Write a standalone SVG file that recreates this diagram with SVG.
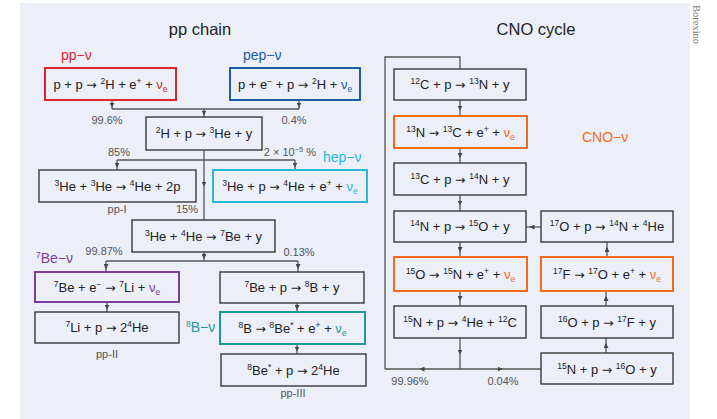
<svg xmlns="http://www.w3.org/2000/svg" width="717" height="419" viewBox="0 0 717 419">
<style>
.bg{fill:#eceef8}
.box{fill:none;stroke:#3a3a3a;stroke-width:1.4}
.t{font-family:"Liberation Sans",Arial,sans-serif;font-size:13px;fill:#222;text-anchor:middle}
.s{font-size:8.5px}
.r{font-family:"DejaVu Sans",sans-serif;font-size:12.5px}
.c{fill:none;stroke:#555;stroke-width:1.3}
.ar{marker-mid:url(#a)}
.p{font-family:"Liberation Sans",Arial,sans-serif;font-size:11px;fill:#555;text-anchor:middle}
.lab{font-family:"Liberation Sans",Arial,sans-serif;font-size:14px}
.ttl{font-family:"Liberation Sans",Arial,sans-serif;font-size:16.5px;fill:#222;text-anchor:middle}
</style>
<defs>
<marker id="a" viewBox="0 0 6 6" refX="3" refY="3" markerWidth="5" markerHeight="5" orient="auto" markerUnits="userSpaceOnUse"><path d="M0,0 L6,3 L0,6 z" fill="#444"/></marker>
</defs>
<rect class="bg" x="20" y="3" width="670" height="416"/>
<text x="693" y="5" transform="rotate(90 693 5)" font-family="'Liberation Serif',serif" font-size="10.5" fill="#777">Borexino</text>
<text class="ttl" x="200" y="35">pp chain</text>
<text class="ttl" x="536" y="35">CNO cycle</text>

<g id="connectors">
<path class="c ar" d="M112,100 L112,105 L112,109"/>
<path class="c ar" d="M299,100 L299,105 L299,109"/>
<path class="c" d="M112,109 L299,109"/>
<path class="c ar" d="M204,109 L204,113 L204,117"/>
<path class="c ar" d="M204,150 L204,184 L204,220"/>
<path class="c" d="M117,160 L295,160"/>
<path class="c ar" d="M117,160 L117,165 L117,170"/>
<path class="c ar" d="M295,160 L295,165 L295,170"/>
<path class="c ar" d="M204,252 L204,256.5 L204,261"/>
<path class="c" d="M106,261 L298,261"/>
<path class="c ar" d="M106,261 L106,266.5 L106,272"/>
<path class="c ar" d="M298,261 L298,266.5 L298,272"/>
<path class="c ar" d="M107,302 L107,307 L107,312"/>
<path class="c ar" d="M297,303 L297,307.5 L297,312"/>
<path class="c ar" d="M297,344 L297,349 L297,354"/>

<path class="c ar" d="M460,369 L422,369 L385,369"/>
<path class="c" d="M385,369 L385,57 L460,57 L460,69"/>
<path class="c ar" d="M460,100 L460,108 L460,116"/>
<path class="c ar" d="M460,148 L460,155.5 L460,163"/>
<path class="c ar" d="M460,195 L460,203 L460,211"/>
<path class="c ar" d="M541,227 L532,227 L526,227"/>
<path class="c ar" d="M460,242 L460,249.5 L460,257"/>
<path class="c ar" d="M607,257 L607,249.5 L607,242"/>
<path class="c ar" d="M460,291 L460,298.5 L460,306"/>
<path class="c ar" d="M606,306 L606,298.5 L606,291"/>
<path class="c ar" d="M606,353 L606,345.5 L606,338"/>
<path class="c ar" d="M460,338 L460,352 L460,369"/>
<path class="c ar" d="M460,369 L500,369 L541,369"/>
</g>

<g id="labels">
<text class="lab" x="61" y="60" fill="#d8262e">pp−ν</text>
<text class="lab" x="243" y="60" fill="#1f5aa6">pep−ν</text>
<text class="lab" x="323" y="162" fill="#2ab8d6">hep−ν</text>
<text class="lab" x="36" y="263" fill="#7a3f9c"><tspan class="s" dy="-5">7</tspan><tspan dy="5">Be−ν</tspan></text>
<text class="lab" x="186" y="332" fill="#1b9996"><tspan class="s" dy="-5">8</tspan><tspan dy="5">B−ν</tspan></text>
<text class="lab" x="582" y="142" fill="#f26b1d">CNO−ν</text>
<text class="p" x="107" y="124">99.6%</text>
<text class="p" x="294" y="124">0.4%</text>
<text class="p" x="119" y="156">85%</text>
<text class="p" x="290" y="156">2 × 10<tspan font-size="7.5" dy="-4">−5</tspan><tspan dy="4"> %</tspan></text>
<text class="p" x="117" y="213">pp-I</text>
<text class="p" x="187" y="213">15%</text>
<text class="p" x="104" y="255">99.87%</text>
<text class="p" x="299" y="256">0.13%</text>
<text class="p" x="107" y="358">pp-II</text>
<text class="p" x="293" y="397">pp-III</text>
<text class="p" x="410" y="385">99.96%</text>
<text class="p" x="503" y="385">0.04%</text>
</g>

<g id="n-pp">
<rect x="45" y="68" width="131" height="32" fill="none" stroke="#d8262e" stroke-width="2"/>
<text class="t" x="110.5" y="89">p + p <tspan class="r">→</tspan> <tspan class="s" dy="-5">2</tspan><tspan dy="5">H + e</tspan><tspan class="s" dy="-5">+</tspan><tspan dy="5"> + </tspan><tspan fill="#d8262e">ν</tspan><tspan class="s" fill="#d8262e" dy="3">e</tspan></text>
</g>
<g id="n-pep">
<rect x="230" y="68" width="130" height="32" fill="none" stroke="#1f5aa6" stroke-width="2"/>
<text class="t" x="295" y="89">p + e<tspan class="s" dy="-5">−</tspan><tspan dy="5"> + p <tspan class="r">→</tspan> </tspan><tspan class="s" dy="-5">2</tspan><tspan dy="5">H + </tspan><tspan fill="#1f5aa6">ν</tspan><tspan class="s" fill="#1f5aa6" dy="3">e</tspan></text>
</g>
<g id="n-2h">
<rect class="box" x="146" y="117" width="116" height="33"/>
<text class="t" x="204" y="138"><tspan class="s" dy="-5">2</tspan><tspan dy="5">H + p <tspan class="r">→</tspan> </tspan><tspan class="s" dy="-5">3</tspan><tspan dy="5">He + y</tspan></text>
</g>
<g id="n-3he3he">
<rect class="box" x="39" y="170" width="157" height="32"/>
<text class="t" x="117.5" y="191"><tspan class="s" dy="-5">3</tspan><tspan dy="5">He + </tspan><tspan class="s" dy="-5">3</tspan><tspan dy="5">He <tspan class="r">→</tspan> </tspan><tspan class="s" dy="-5">4</tspan><tspan dy="5">He + 2p</tspan></text>
</g>
<g id="n-hep">
<rect x="213" y="170" width="154" height="32" fill="none" stroke="#2ab8d6" stroke-width="2"/>
<text class="t" x="290" y="191"><tspan class="s" dy="-5">3</tspan><tspan dy="5">He + p <tspan class="r">→</tspan> </tspan><tspan class="s" dy="-5">4</tspan><tspan dy="5">He + e</tspan><tspan class="s" dy="-5">+</tspan><tspan dy="5"> + </tspan><tspan fill="#2ab8d6">ν</tspan><tspan class="s" fill="#2ab8d6" dy="3">e</tspan></text>
</g>
<g id="n-3he4he">
<rect class="box" x="132" y="220" width="143" height="32"/>
<text class="t" x="203.5" y="241"><tspan class="s" dy="-5">3</tspan><tspan dy="5">He + </tspan><tspan class="s" dy="-5">4</tspan><tspan dy="5">He <tspan class="r">→</tspan> </tspan><tspan class="s" dy="-5">7</tspan><tspan dy="5">Be + y</tspan></text>
</g>
<g id="n-7be">
<rect x="35" y="272" width="144" height="30" fill="none" stroke="#7a3f9c" stroke-width="2"/>
<text class="t" x="107" y="292"><tspan class="s" dy="-5">7</tspan><tspan dy="5">Be + e</tspan><tspan class="s" dy="-5">−</tspan><tspan dy="5"> <tspan class="r">→</tspan> </tspan><tspan class="s" dy="-5">7</tspan><tspan dy="5">Li + </tspan><tspan fill="#7a3f9c">ν</tspan><tspan class="s" fill="#7a3f9c" dy="3">e</tspan></text>
</g>
<g id="n-7bep">
<rect class="box" x="220" y="272" width="144" height="31"/>
<text class="t" x="292" y="292"><tspan class="s" dy="-5">7</tspan><tspan dy="5">Be + p <tspan class="r">→</tspan> </tspan><tspan class="s" dy="-5">8</tspan><tspan dy="5">B + y</tspan></text>
</g>
<g id="n-7li">
<rect class="box" x="35" y="312" width="144" height="31"/>
<text class="t" x="107" y="332"><tspan class="s" dy="-5">7</tspan><tspan dy="5">Li + p <tspan class="r">→</tspan> 2</tspan><tspan class="s" dy="-5">4</tspan><tspan dy="5">He</tspan></text>
</g>
<g id="n-8b">
<rect x="220" y="312" width="145" height="32" fill="none" stroke="#1b9996" stroke-width="2"/>
<text class="t" x="292.5" y="333"><tspan class="s" dy="-5">8</tspan><tspan dy="5">B <tspan class="r">→</tspan> </tspan><tspan class="s" dy="-5">8</tspan><tspan dy="5">Be</tspan><tspan class="s" dy="-5">*</tspan><tspan dy="5"> + e</tspan><tspan class="s" dy="-5">+</tspan><tspan dy="5"> + </tspan><tspan fill="#1b9996">ν</tspan><tspan class="s" fill="#1b9996" dy="3">e</tspan></text>
</g>
<g id="n-8be">
<rect class="box" x="221" y="354" width="145" height="32"/>
<text class="t" x="293.5" y="375"><tspan class="s" dy="-5">8</tspan><tspan dy="5">Be</tspan><tspan class="s" dy="-5">*</tspan><tspan dy="5"> + p <tspan class="r">→</tspan> 2</tspan><tspan class="s" dy="-5">4</tspan><tspan dy="5">He</tspan></text>
</g>

<g id="n-12c">
<rect class="box" x="394" y="69" width="132" height="31"/>
<text class="t" x="460" y="89"><tspan class="s" dy="-5">12</tspan><tspan dy="5">C + p <tspan class="r">→</tspan> </tspan><tspan class="s" dy="-5">13</tspan><tspan dy="5">N + y</tspan></text>
</g>
<g id="n-13n">
<rect x="394" y="116" width="133" height="32" fill="none" stroke="#f26b1d" stroke-width="2"/>
<text class="t" x="460.5" y="137"><tspan class="s" dy="-5">13</tspan><tspan dy="5">N <tspan class="r">→</tspan> </tspan><tspan class="s" dy="-5">13</tspan><tspan dy="5">C + e</tspan><tspan class="s" dy="-5">+</tspan><tspan dy="5"> + </tspan><tspan fill="#f26b1d">ν</tspan><tspan class="s" fill="#f26b1d" dy="3">e</tspan></text>
</g>
<g id="n-13c">
<rect class="box" x="394" y="163" width="132" height="32"/>
<text class="t" x="460" y="184"><tspan class="s" dy="-5">13</tspan><tspan dy="5">C + p <tspan class="r">→</tspan> </tspan><tspan class="s" dy="-5">14</tspan><tspan dy="5">N + y</tspan></text>
</g>
<g id="n-14n">
<rect class="box" x="394" y="211" width="132" height="31"/>
<text class="t" x="460" y="231"><tspan class="s" dy="-5">14</tspan><tspan dy="5">N + p <tspan class="r">→</tspan> </tspan><tspan class="s" dy="-5">15</tspan><tspan dy="5">O + y</tspan></text>
</g>
<g id="n-17o">
<rect class="box" x="541" y="211" width="132" height="31"/>
<text class="t" x="607" y="231"><tspan class="s" dy="-5">17</tspan><tspan dy="5">O + p <tspan class="r">→</tspan> </tspan><tspan class="s" dy="-5">14</tspan><tspan dy="5">N + </tspan><tspan class="s" dy="-5">4</tspan><tspan dy="5">He</tspan></text>
</g>
<g id="n-15o">
<rect x="394" y="257" width="133" height="34" fill="none" stroke="#f26b1d" stroke-width="2"/>
<text class="t" x="460.5" y="279"><tspan class="s" dy="-5">15</tspan><tspan dy="5">O <tspan class="r">→</tspan> </tspan><tspan class="s" dy="-5">15</tspan><tspan dy="5">N + e</tspan><tspan class="s" dy="-5">+</tspan><tspan dy="5"> + </tspan><tspan fill="#f26b1d">ν</tspan><tspan class="s" fill="#f26b1d" dy="3">e</tspan></text>
</g>
<g id="n-17f">
<rect x="541" y="257" width="132" height="34" fill="none" stroke="#f26b1d" stroke-width="2"/>
<text class="t" x="607" y="279"><tspan class="s" dy="-5">17</tspan><tspan dy="5">F <tspan class="r">→</tspan> </tspan><tspan class="s" dy="-5">17</tspan><tspan dy="5">O + e</tspan><tspan class="s" dy="-5">+</tspan><tspan dy="5"> + </tspan><tspan fill="#f26b1d">ν</tspan><tspan class="s" fill="#f26b1d" dy="3">e</tspan></text>
</g>
<g id="n-15n">
<rect class="box" x="394" y="306" width="132" height="32"/>
<text class="t" x="460" y="327"><tspan class="s" dy="-5">15</tspan><tspan dy="5">N + p <tspan class="r">→</tspan> </tspan><tspan class="s" dy="-5">4</tspan><tspan dy="5">He + </tspan><tspan class="s" dy="-5">12</tspan><tspan dy="5">C</tspan></text>
</g>
<g id="n-16o">
<rect class="box" x="541" y="306" width="132" height="32"/>
<text class="t" x="607" y="327"><tspan class="s" dy="-5">16</tspan><tspan dy="5">O + p <tspan class="r">→</tspan> </tspan><tspan class="s" dy="-5">17</tspan><tspan dy="5">F + y</tspan></text>
</g>
<g id="n-15n16o">
<rect class="box" x="541" y="353" width="132" height="31"/>
<text class="t" x="607" y="374"><tspan class="s" dy="-5">15</tspan><tspan dy="5">N + p <tspan class="r">→</tspan> </tspan><tspan class="s" dy="-5">16</tspan><tspan dy="5">O + y</tspan></text>
</g>
</svg>
